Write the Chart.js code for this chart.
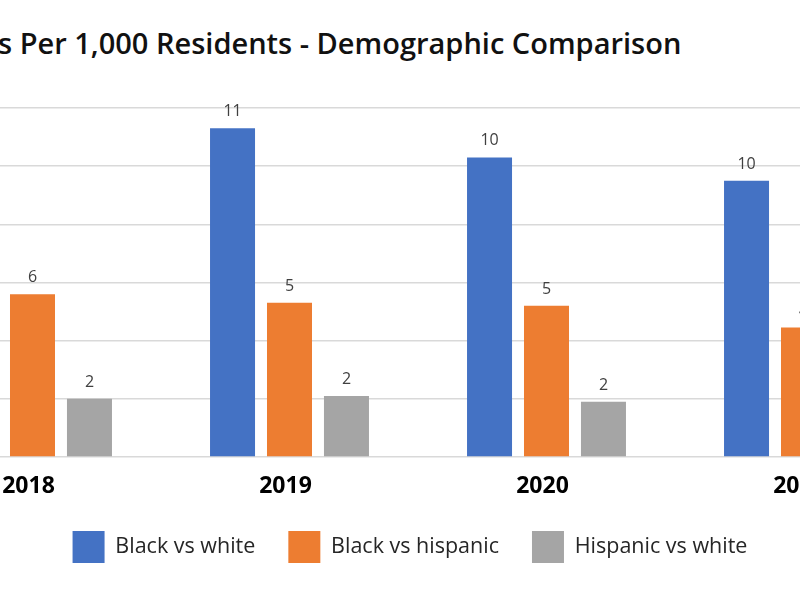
<!DOCTYPE html>
<html>
<head>
<meta charset="utf-8">
<script src="https://cdn.jsdelivr.net/npm/chart.js@4"></script>
<style>
  body { margin: 0; background: #fff; overflow: hidden; width: 800px; height: 600px; position: relative; }
  #title {
    position: absolute; left: -2px; top: 28px; white-space: nowrap;
    font-family: "Open Sans", sans-serif; font-weight: 600; font-size: 29px; line-height: 1;
    color: #111;
  }
  #wrap { position: absolute; left: -120px; top: 0; width: 1060px; height: 600px; }
</style>
</head>
<body>
<div id="title">s Per 1,000 Residents - Demographic Comparison</div>
<div id="wrap"><canvas id="chart" width="1060" height="600"></canvas></div>
<script>
// chart data
var years = ['2018', '2019', '2020', '2021'];
var blackVsWhite = [10.0, 11.3, 10.3, 9.5];
var blackVsHispanic = [5.6, 5.3, 5.2, 4.45];
var hispanicVsWhite = [2.0, 2.1, 1.9, 2.0];
var seriesNames = ['Black vs white', 'Black vs hispanic', 'Hispanic vs white'];
var seriesColors = ['#4472C4', '#ED7D31', '#A5A5A5'];

// numbers above each bar
var barLabels = {
    id: 'barLabels',
    afterDatasetsDraw: function(chart) {
        var ctx = chart.ctx;
        ctx.save();
        ctx.font = '16px "Open Sans", sans-serif';
        ctx.fillStyle = '#404040';
        ctx.textAlign = 'center';
        ctx.textBaseline = 'alphabetic';
        chart.data.datasets.forEach(function(ds, i) {
            chart.getDatasetMeta(i).data.forEach(function(bar, j) {
                ctx.fillText(Math.round(ds.data[j]), bar.x, bar.y - 12);
            });
        });
        ctx.restore();
    }
};

var ctx = document.getElementById('chart').getContext('2d');
new Chart(ctx, {
    type: 'bar',
    data: {
        labels: years,
        datasets: [
            { label: seriesNames[0], data: blackVsWhite, backgroundColor: seriesColors[0] },
            { label: seriesNames[1], data: blackVsHispanic, backgroundColor: seriesColors[1] },
            { label: seriesNames[2], data: hispanicVsWhite, backgroundColor: seriesColors[2] }
        ]
    },
    options: {
        responsive: false,
        animation: false,
        devicePixelRatio: 1,
        categoryPercentage: 0.665,
        barPercentage: 0.79,
        layout: { padding: { left: 8, right: 8, top: 108, bottom: 27 } },
        scales: {
            x: {
                grid: { display: false, drawTicks: false },
                border: { display: false },
                ticks: {
                    color: '#000',
                    font: { family: '"Open Sans", sans-serif', size: 23, weight: 'bold' },
                    padding: 16,
                    labelOffset: -4
                },
                afterFit: function(scale) { scale.height = 41; }
            },
            y: {
                min: 0,
                max: 12,
                ticks: { display: false, stepSize: 2 },
                grid: { color: '#d9d9d9', lineWidth: 1.5, drawTicks: false },
                border: { display: false },
                afterFit: function(scale) { scale.width = 16; }
            }
        },
        plugins: {
            title: { display: false },
            tooltip: { enabled: false },
            legend: {
                position: 'bottom',
                labels: {
                    boxWidth: 32,
                    boxHeight: 32,
                    padding: 33,
                    color: '#262626',
                    font: { family: '"Open Sans", sans-serif', size: 21.5 }
                }
            }
        }
    },
    plugins: [barLabels]
});
</script>
</body>
</html>
